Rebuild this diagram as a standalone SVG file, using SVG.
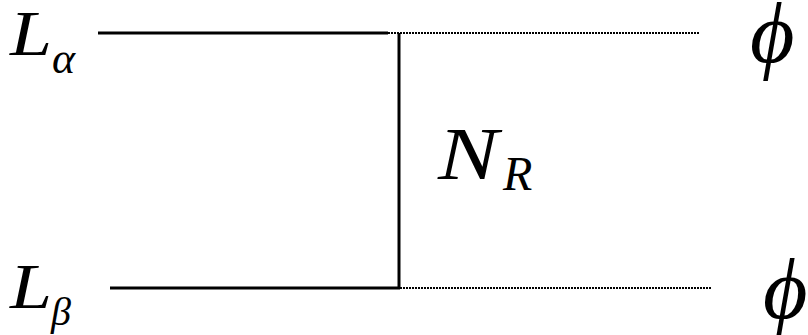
<svg xmlns="http://www.w3.org/2000/svg" width="808" height="335" viewBox="0 0 808 335">
<style>
.s{stroke:#000;stroke-width:3;fill:none}
.d{stroke:#000;stroke-width:2;stroke-dasharray:2 1;fill:none}
.t{font-family:"Liberation Serif";font-style:italic;fill:#000}
</style>
<rect width="808" height="335" fill="#fff"/>
<g id="connectors">
<line class="s" x1="98" y1="33" x2="388" y2="33"/>
<line class="d" x1="388" y1="33" x2="699" y2="33"/>
<line class="s" x1="399" y1="33" x2="399" y2="288"/>
<line class="s" x1="110" y1="288" x2="400" y2="288"/>
<line class="d" x1="400" y1="288" x2="711" y2="288"/>
</g>
<g id="L_alpha">
<text class="t" transform="translate(10,55) scale(1.18,1)" font-size="64">L</text>
<text class="t" x="52" y="73" font-size="44">α</text>
</g>
<g id="L_beta">
<text class="t" transform="translate(10,308) scale(1.18,1)" font-size="64">L</text>
<text class="t" x="51" y="325" font-size="40">β</text>
</g>
<g id="N_R">
<text class="t" transform="translate(438,179) scale(1.22,1)" font-size="74">N</text>
<text class="t" x="503" y="190" font-size="48">R</text>
</g>
<g id="phi_top"><text class="t" x="750" y="62" font-size="86">ϕ</text></g>
<g id="phi_bottom"><text class="t" x="763" y="318" font-size="86">ϕ</text></g>
</svg>
